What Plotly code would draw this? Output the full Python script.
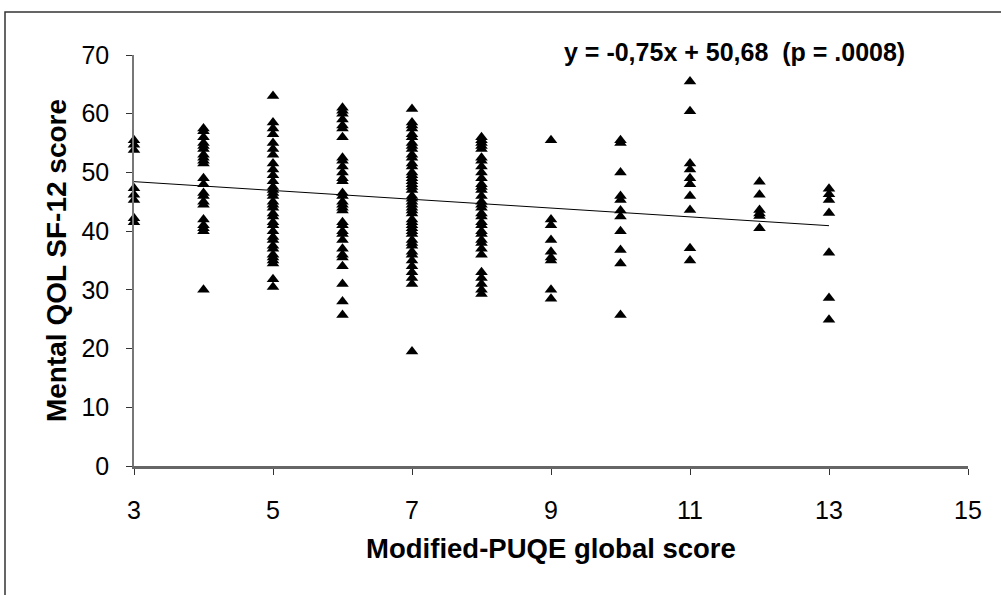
import plotly.graph_objects as go

# PUQE score columns and SF-12 mental scores
x3 = [55.5, 54.7, 53.8, 47.3, 46.2, 45.3, 42.2, 41.5]
x4 = [57.5, 57.0, 56.0, 55.0, 54.5, 54.0, 53.0, 52.5, 52.0, 51.5, 49.0, 48.0, 46.5, 46.0, 45.0, 44.5, 42.0, 41.0, 40.5, 40.0, 30.0]
x5 = [63.0, 58.5, 57.5, 56.5, 55.0, 54.0, 53.0, 51.5, 50.5, 49.5, 48.5, 47.5, 47.0, 46.5, 46.0, 45.0, 44.5, 44.0, 43.0, 42.5,
      41.5, 41.0, 40.0, 39.0, 38.5, 37.5, 37.0, 36.0, 35.5, 35.0, 34.5, 31.8, 30.5]
x6 = [61.0, 60.5, 60.0, 59.0, 58.0, 57.5, 56.0, 52.5, 52.0, 51.0, 50.0, 49.0, 48.5, 46.5, 46.0, 45.0, 44.5, 44.0, 43.5,
      41.5, 41.0, 40.0, 39.5, 38.5, 37.0, 36.0, 35.5, 34.0, 31.0, 28.0, 25.7]
x7 = [60.8, 58.5, 58.0, 57.5, 56.5, 56.0, 55.0, 54.5, 54.0, 53.0, 52.5, 51.5, 51.0, 50.0, 49.5, 49.0, 48.5, 48.0, 47.5,
      47.0, 46.0, 45.5, 45.0, 44.5, 44.0, 43.5, 43.0, 42.0, 41.5, 41.0, 40.5, 40.0, 39.5, 38.5, 38.0, 37.5, 36.5, 36.0,
      35.0, 34.0, 33.0, 32.0, 31.0, 19.5]
x8 = [56.0, 55.5, 55.0, 54.5, 54.0, 52.5, 52.0, 51.0, 50.0, 49.0, 48.0, 47.5, 47.0, 46.0, 45.0, 44.5, 44.0, 43.0, 42.5,
      41.5, 41.0, 40.0, 39.5, 38.5, 38.0, 37.0, 36.0, 33.0, 32.0, 31.0, 30.0, 29.3]
x9 = [55.5, 42.0, 41.0, 38.5, 36.5, 35.5, 35.0, 30.0, 28.5]
x10 = [55.5, 55.0, 50.0, 46.0, 45.3, 43.5, 42.5, 40.0, 36.8, 34.5, 25.7]
x11 = [65.5, 60.4, 51.5, 50.5, 49.0, 48.0, 46.0, 43.6, 37.1, 35.0]
x12 = [48.4, 46.2, 43.6, 43.0, 42.6, 40.5]
x13 = [47.2, 46.3, 45.3, 43.1, 36.3, 28.6, 24.9]

columns = {3: x3, 4: x4, 5: x5, 6: x6, 7: x7, 8: x8, 9: x9, 10: x10, 11: x11, 12: x12, 13: x13}

slope = -0.75
intercept = 50.68
fit_x = [3, 13]

x_ticks = [3, 5, 7, 9, 11, 13, 15]
y_ticks = [0, 10, 20, 30, 40, 50, 60, 70]

xs, ys = [], []
for k, vals in columns.items():
    xs += [k] * len(vals)
    ys += vals

fig = go.Figure()
fig.add_trace(go.Scatter(
    x=fit_x, y=[slope * v + intercept for v in fit_x], mode="lines",
    line=dict(color="black", width=1), showlegend=False, hoverinfo="skip"))
fig.add_trace(go.Scatter(
    x=xs, y=ys, mode="markers",
    marker=dict(symbol="triangle-up", size=11, color="black"),
    cliponaxis=False, showlegend=False))

L, R, T, B = 134, 33, 55, 129
W, H = 1001, 595
pw, ph = W - L - R, H - T - B

def px_to_paper_x(p):
    return (p - L) / pw

def px_to_paper_y(p):
    return (H - B - p) / ph

fig.add_shape(type="rect", xref="paper", yref="paper",
              x0=px_to_paper_x(5), x1=px_to_paper_x(1010),
              y0=px_to_paper_y(620), y1=px_to_paper_y(12),
              line=dict(color="#333", width=1.5), fillcolor="rgba(0,0,0,0)", layer="below")

FONT = "Liberation Sans, Arial"
fig.add_annotation(
    x=px_to_paper_x(907), xref="paper", xanchor="right",
    y=px_to_paper_y(52), yref="paper", yanchor="middle",
    text="<b>y = -0,75x + 50,68  (p = .0008)</b>", showarrow=False,
    font=dict(family=FONT, size=25, color="black"))

tick_font = dict(family=FONT, size=25, color="black")
fig.update_layout(
    width=W, height=H,
    margin=dict(l=L, r=R, t=T, b=B),
    plot_bgcolor="white", paper_bgcolor="white",
    font=dict(family=FONT, color="black"),
    xaxis=dict(range=[3, 15], tickvals=x_ticks, ticks="outside", ticklen=6,
               tickcolor="#333", showline=True, linecolor="#666", linewidth=2.5,
               showgrid=False, zeroline=False, tickfont=tick_font, ticklabelstandoff=14,
               title=dict(text="<b>Modified-PUQE global score</b>",
                          font=dict(family=FONT, size=27.5, color="black"), standoff=16)),
    yaxis=dict(range=[0, 70], tickvals=y_ticks, ticks="outside", ticklen=6,
               tickcolor="#333", showline=True, linecolor="#777", linewidth=1.5,
               showgrid=False, zeroline=False, tickfont=tick_font, ticklabelstandoff=12,
               title=dict(text="<b>Mental QOL SF-12 score</b>",
                          font=dict(family=FONT, size=28, color="black"), standoff=7)),
)

fig.write_html("out.html", config={"displayModeBar": False},
               post_script="document.body.style.margin='0px';")
